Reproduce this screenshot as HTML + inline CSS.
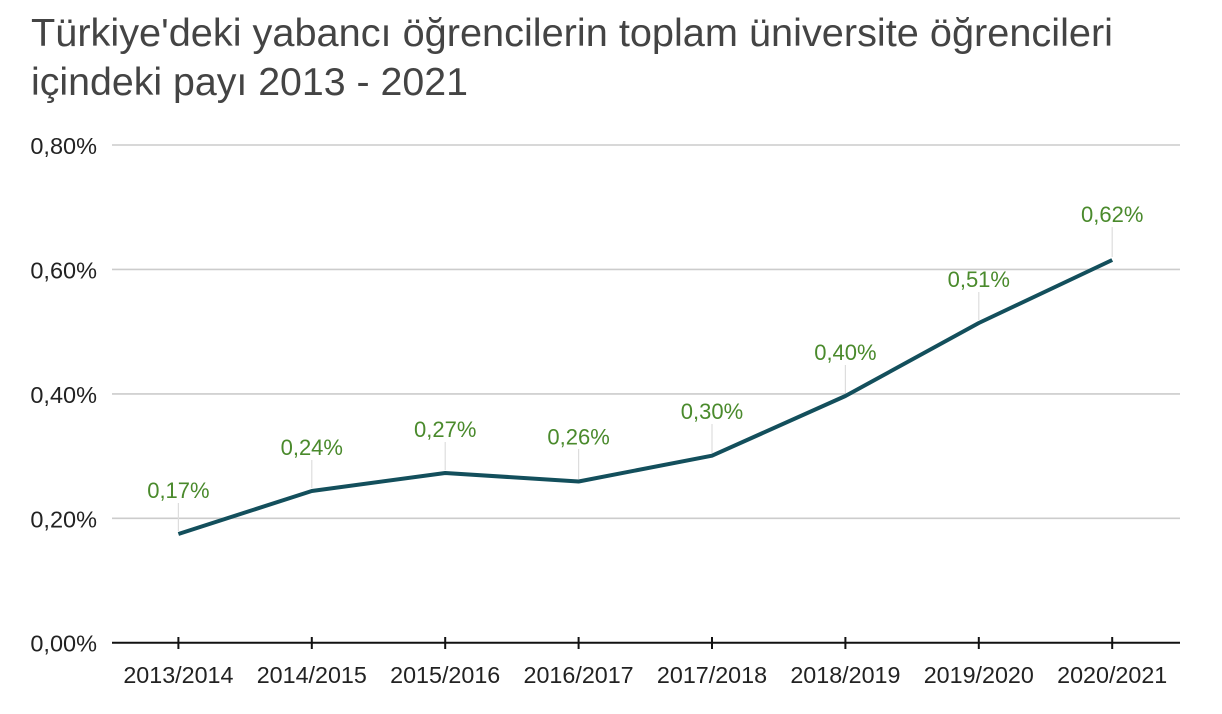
<!DOCTYPE html>
<html>
<head>
<meta charset="utf-8">
<style>
html,body{margin:0;padding:0;background:#fff;}
svg{display:block;}
</style>
</head>
<body>
<svg width="1222" height="714" viewBox="0 0 1222 714" xmlns="http://www.w3.org/2000/svg">
  <rect width="1222" height="714" fill="#ffffff"/>
  <!-- Title -->
  <g font-family="Liberation Sans, Arial, sans-serif" fill="#444444" font-size="38.5">
    <text x="31" y="46" textLength="1082" lengthAdjust="spacingAndGlyphs">Türkiye'deki yabancı öğrencilerin toplam üniversite öğrencileri</text>
    <text x="31" y="95" textLength="437" lengthAdjust="spacingAndGlyphs">içindeki payı 2013 - 2021</text>
  </g>
  <!-- Gridlines -->
  <g stroke="#cccccc" stroke-width="1.6">
    <line x1="112" y1="145" x2="1180" y2="145"/>
    <line x1="112" y1="269.4" x2="1180" y2="269.4"/>
    <line x1="112" y1="393.9" x2="1180" y2="393.9"/>
    <line x1="112" y1="518.3" x2="1180" y2="518.3"/>
  </g>
  <!-- Y labels -->
  <g font-family="Liberation Sans, Arial, sans-serif" font-size="23.5" fill="#222222" text-anchor="end">
    <text x="97" y="154">0,80%</text>
    <text x="97" y="278.4">0,60%</text>
    <text x="97" y="402.9">0,40%</text>
    <text x="97" y="527.3">0,20%</text>
    <text x="97" y="651.7">0,00%</text>
  </g>
  <!-- Leader lines -->
  <g stroke="#dddddd" stroke-width="1.2">
    <line x1="178.4" y1="503" x2="178.4" y2="531"/>
    <line x1="311.8" y1="460" x2="311.8" y2="488"/>
    <line x1="445.2" y1="442" x2="445.2" y2="470"/>
    <line x1="578.6" y1="449" x2="578.6" y2="479"/>
    <line x1="712" y1="424" x2="712" y2="453"/>
    <line x1="845.4" y1="365" x2="845.4" y2="393"/>
    <line x1="978.8" y1="292" x2="978.8" y2="320"/>
    <line x1="1112.2" y1="227" x2="1112.2" y2="257"/>
  </g>
  <!-- Axis -->
  <g stroke="#111111" stroke-width="2">
    <line x1="112" y1="642.7" x2="1180" y2="642.7"/>
    <line x1="178.4" y1="637" x2="178.4" y2="649"/>
    <line x1="311.8" y1="637" x2="311.8" y2="649"/>
    <line x1="445.2" y1="637" x2="445.2" y2="649"/>
    <line x1="578.6" y1="637" x2="578.6" y2="649"/>
    <line x1="712" y1="637" x2="712" y2="649"/>
    <line x1="845.4" y1="637" x2="845.4" y2="649"/>
    <line x1="978.8" y1="637" x2="978.8" y2="649"/>
    <line x1="1112.2" y1="637" x2="1112.2" y2="649"/>
  </g>
  <!-- X labels -->
  <g font-family="Liberation Sans, Arial, sans-serif" font-size="23.3" fill="#222222" text-anchor="middle">
    <text x="178.4" y="683">2013/2014</text>
    <text x="311.8" y="683">2014/2015</text>
    <text x="445.2" y="683">2015/2016</text>
    <text x="578.6" y="683">2016/2017</text>
    <text x="712" y="683">2017/2018</text>
    <text x="845.4" y="683">2018/2019</text>
    <text x="978.8" y="683">2019/2020</text>
    <text x="1112.2" y="683">2020/2021</text>
  </g>
  <!-- Series line -->
  <polyline fill="none" stroke="#134f5c" stroke-width="4" stroke-linejoin="round" stroke-linecap="butt"
    points="178.4,534 311.8,491 445.2,473 578.6,481.5 712,455.7 845.4,396 978.8,323 1112.2,260"/>
  <!-- Data labels -->
  <g font-family="Liberation Sans, Arial, sans-serif" font-size="22" fill="#4a8a2c" text-anchor="middle">
    <text x="178.4" y="498">0,17%</text>
    <text x="311.8" y="455">0,24%</text>
    <text x="445.2" y="437">0,27%</text>
    <text x="578.6" y="444.5">0,26%</text>
    <text x="712" y="419">0,30%</text>
    <text x="845.4" y="360">0,40%</text>
    <text x="978.8" y="287">0,51%</text>
    <text x="1112.2" y="222">0,62%</text>
  </g>
</svg>
</body>
</html>
